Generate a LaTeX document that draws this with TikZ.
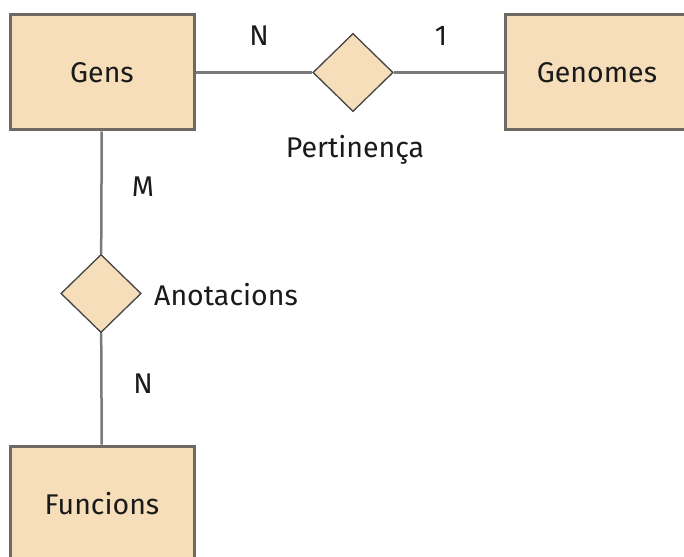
\documentclass[tikz,border=0pt]{standalone}
\usepackage{fontspec}
\setmainfont{Fira Sans}
\usetikzlibrary{shapes.geometric}
\definecolor{erfill}{HTML}{F5DEB9}
\definecolor{erborder}{HTML}{6E6A62}
\definecolor{erline}{HTML}{7A7A7A}
\definecolor{ertext}{HTML}{1A1A1A}
\tikzset{
  entity/.style={draw=erborder, line width=3pt, fill=erfill, minimum width=184pt, minimum height=115pt, inner sep=0pt, font=\fontsize{28.5}{32}\selectfont, text=ertext},
  relation/.style={diamond, draw=ertext!80, line width=1.2pt, fill=erfill, minimum width=80pt, minimum height=78pt, inner sep=0pt},
  link/.style={draw=erline, line width=2.5pt},
  lbl/.style={font=\fontsize{28.5}{32}\selectfont, text=ertext, inner sep=0pt}
}
\begin{document}
\begin{tikzpicture}[x=1pt, y=-1pt]
  \useasboundingbox (0,0) rectangle (684,556);
  % entities
  \node[entity] (gens) at (102,72.5) {Gens};
  \node[entity] (genomes) at (597,72.5) {Genomes};
  \node[entity] (funcions) at (102,503.5) {Funcions};
  % relationships
  \node[relation] (pert) at (353,72.5) {};
  \node[relation] (anot) at (101,293.5) {};
  % connectors
  \draw[link] (gens) -- (pert);
  \draw[link] (pert) -- (genomes);
  \draw[link] (gens) -- (anot);
  \draw[link] (anot) -- (funcions);
  % diamonds redrawn above the line ends
  \node[relation] at (pert) {};
  \node[relation] at (anot) {};
  % labels
  \node[lbl] (pertl) at (355,150) {Pertinença};
  \node[lbl, anchor=west] (anotl) at (154,295) {Anotacions};
  \node[lbl] (c1) at (259,36) {N};
  \node[lbl] (c2) at (441,36) {1};
  \node[lbl] (c3) at (143,187) {M};
  \node[lbl] (c4) at (143,384) {N};
\end{tikzpicture}
\end{document}
